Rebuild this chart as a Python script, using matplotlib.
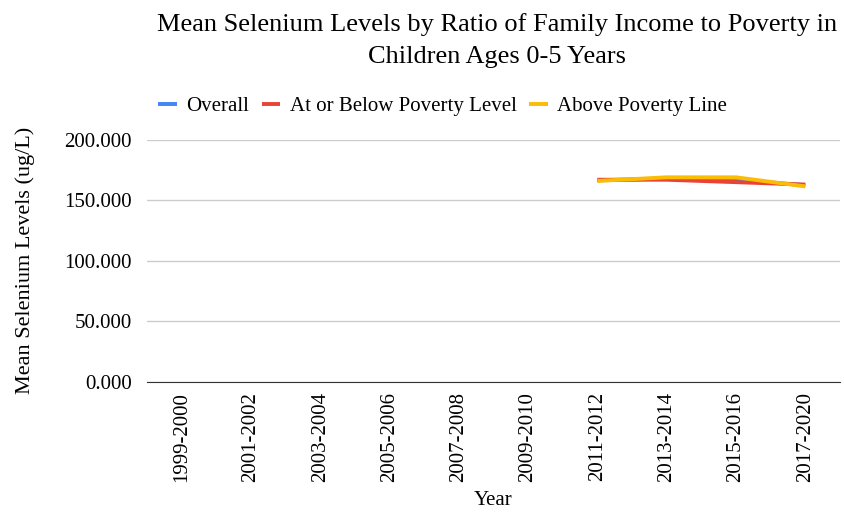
import matplotlib.pyplot as plt
import numpy as np

plt.rcParams['font.family'] = ['Liberation Serif', 'DejaVu Serif']

years = ['1999-2000', '2001-2002', '2003-2004', '2005-2006', '2007-2008',
         '2009-2010', '2011-2012', '2013-2014', '2015-2016', '2017-2020']
overall = [None, None, None, None, None, None, 166.5, 168.0, 167.0, 162.5]
below_poverty = [None, None, None, None, None, None, 167.0, 167.0, 165.0, 163.0]
above_poverty = [None, None, None, None, None, None, 166.0, 169.0, 169.0, 161.5]

series = [
    ('Overall', overall, '#4285f4'),
    ('At or Below Poverty Level', below_poverty, '#ea4335'),
    ('Above Poverty Line', above_poverty, '#fbbc04'),
]

fig = plt.figure(figsize=(8.45, 5.12), dpi=100)
ax = fig.add_axes([0.174, 0.254, 0.82, 0.473])

x = np.arange(len(years))
for name, vals, col in series:
    y = np.array([np.nan if v is None else v for v in vals])
    ax.plot(x, y, color=col, lw=2.8, label=name, solid_capstyle='butt')

ax.set_xlim(-0.5, len(years) - 0.5)
ax.set_ylim(0, 200)
ax.set_yticks([0, 50, 100, 150, 200])
ax.set_yticklabels([f'{v:.3f}' for v in [0, 50, 100, 150, 200]], fontsize=15)
ax.set_xticks(x)
ax.set_xticklabels(years, rotation=90, fontsize=15)
ax.tick_params(axis='y', length=0, pad=11)
ax.tick_params(axis='x', length=0, pad=7)
ax.grid(axis='y', color='#cccccc', lw=1)
ax.set_axisbelow(True)
for s in ['top', 'right', 'left']:
    ax.spines[s].set_visible(False)
ax.spines['bottom'].set_color('#333333')

ax.set_xlabel('Year', fontsize=15)
ax.xaxis.set_label_coords(0.5, -0.452)
ax.set_ylabel('Mean Selenium Levels (ug/L)', fontsize=16)
ax.yaxis.set_label_coords(-0.162, 0.5)

fig.text(0.588, 0.952, 'Mean Selenium Levels by Ratio of Family Income to Poverty in',
         ha='center', va='center', fontsize=19)
fig.text(0.588, 0.889, 'Children Ages 0-5 Years', ha='center', va='center', fontsize=19)

ax.legend(loc='center left', bbox_to_anchor=(0.016, 1.137), ncol=3, frameon=False,
          fontsize=15, handlelength=0.9, handletextpad=0.45, columnspacing=0.6,
          borderaxespad=0, borderpad=0)

fig.savefig('out.png', dpi=100)
